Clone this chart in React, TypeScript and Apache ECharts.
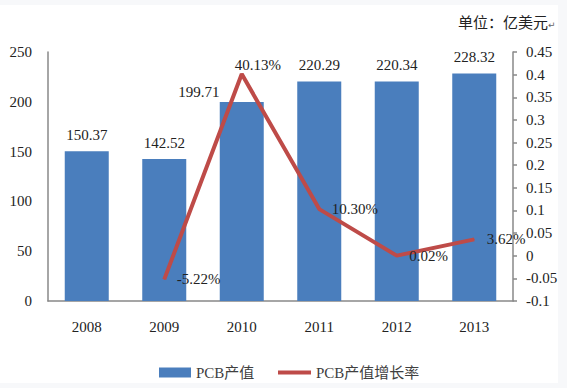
import React, { useEffect, useRef } from "react";
import * as echarts from "echarts";

const years = ["2008", "2009", "2010", "2011", "2012", "2013"];
const pcbValues = [150.37, 142.52, 199.71, 220.29, 220.34, 228.32];
const growthRates: (number | null)[] = [null, -0.0522, 0.4013, 0.103, 0.0002, 0.0362];
const seriesNames = ["PCB产值", "PCB产值增长率"];
const unitText = "单位：亿美元";

const SERIF = "'Liberation Serif', 'Times New Roman', 'Noto Sans CJK SC', serif";

export default function App() {
  const ref = useRef<HTMLDivElement>(null);
  useEffect(() => {
    if (!ref.current) return;
    const chart = echarts.init(ref.current, null, { renderer: "svg" });
    const barData = pcbValues.map((v, i) =>
      i === 2 ? { value: v, label: { offset: [-43, 6] } } : v
    );
    const lineData = growthRates.map((v, i) =>
      i === 2
        ? { value: v, label: { position: "top", distance: 1, offset: [16, 0] } }
        : v
    );
    const legendText = { fontFamily: SERIF, fontSize: 15, color: "#404040" };
    chart.setOption({
      animation: false,
      backgroundColor: "#f7f8fa",
      graphic: [
        {
          type: "rect",
          z: -10,
          shape: { x: 0, y: 5, width: 558, height: 378 },
          style: { fill: "#ffffff" },
          silent: true,
        },
        {
          type: "text",
          right: 19,
          top: 14,
          style: {
            text: unitText,
            font: "15px 'Noto Sans CJK SC', sans-serif",
            fill: "#222",
          },
        },
        {
          type: "text",
          left: 548,
          top: 20,
          style: { text: "↵", font: "9px 'DejaVu Sans', sans-serif", fill: "#666" },
        },
      ],
      grid: { left: 48, right: 54, top: 52, bottom: 87 },
      legend: [
        {
          top: 360,
          left: 154,
          itemWidth: 32,
          itemHeight: 10,
          icon: "rect",
          textStyle: legendText,
          data: [seriesNames[0]],
        },
        {
          top: 360,
          left: 273,
          itemWidth: 33,
          itemHeight: 4,
          icon: "rect",
          textStyle: legendText,
          data: [seriesNames[1]],
        },
      ],
      xAxis: {
        type: "category",
        data: years,
        axisLine: { lineStyle: { color: "#888", width: 1.5 } },
        axisTick: { show: false },
        axisLabel: { margin: 18, fontFamily: SERIF, fontSize: 15, color: "#222" },
      },
      yAxis: [
        {
          type: "value",
          min: 0,
          max: 250,
          interval: 50,
          axisLine: { show: true, lineStyle: { color: "#888", width: 1.5 } },
          axisTick: { show: false },
          splitLine: { show: false },
          axisLabel: { margin: 16, fontFamily: SERIF, fontSize: 15, color: "#222" },
        },
        {
          type: "value",
          min: -0.1,
          max: 0.45,
          interval: 0.05,
          position: "right",
          axisLine: { show: true, lineStyle: { color: "#888", width: 1.5 } },
          axisTick: { show: true, inside: false, length: 4, lineStyle: { color: "#888", width: 1.5 } },
          splitLine: { show: false },
          axisLabel: {
            margin: 13,
            fontFamily: SERIF,
            fontSize: 15,
            color: "#222",
            formatter: (v: number) => String(parseFloat(v.toFixed(2))),
          },
        },
      ],
      series: [
        {
          name: seriesNames[0],
          type: "bar",
          data: barData,
          barWidth: 44,
          itemStyle: { color: "#4a7ebd" },
          label: {
            show: true,
            position: "top",
            distance: 9,
            fontFamily: SERIF,
            fontSize: 15,
            color: "#222",
            formatter: (p: any) => Number(p.value).toFixed(2),
          },
        },
        {
          name: seriesNames[1],
          type: "line",
          yAxisIndex: 1,
          data: lineData,
          symbol: "circle",
          symbolSize: 1,
          showSymbol: true,
          lineStyle: { color: "#be4b48", width: 4 },
          itemStyle: { color: "#be4b48" },
          label: {
            show: true,
            position: "right",
            distance: 12,
            fontFamily: SERIF,
            fontSize: 15,
            color: "#222",
            formatter: (p: any) => (Number(p.value) * 100).toFixed(2) + "%",
          },
        },
      ],
    });
    return () => chart.dispose();
  }, []);
  return (
    <div
      ref={ref}
      style={{ position: "fixed", left: 0, top: 0, width: 567, height: 388 }}
    />
  );
}
